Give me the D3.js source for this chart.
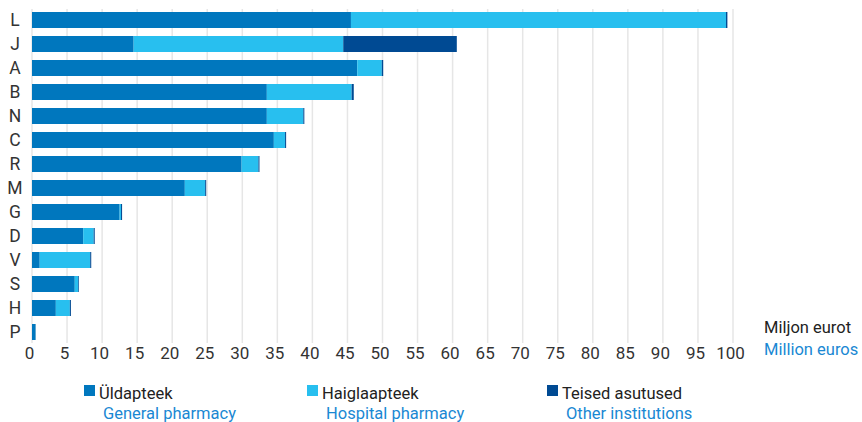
<!DOCTYPE html>
<html>
<head>
<meta charset="utf-8">
<script src="https://cdn.jsdelivr.net/npm/d3@7"></script>
<style>
  body { margin: 0; background: #fff; }
  text { font-family: Roboto, "Noto Sans", sans-serif; }
</style>
</head>
<body>
<svg id="chart" width="862" height="422"></svg>
<script>
// categories, top to bottom
const categories = ['L', 'J', 'A', 'B', 'N', 'C', 'R', 'M', 'G', 'D', 'V', 'S', 'H', 'P'];
// values in million euros
const general  = [45.5, 14.5, 46.4, 33.5, 33.5, 34.5, 29.9, 21.8, 12.5, 7.3, 1.1, 6.1, 3.4, 0.45];
const hospital = [53.5, 29.9,  3.5, 12.1,  5.2,  1.6,  2.4,  2.9,  0.2, 1.5, 7.2, 0.5, 2.0, 0.05];
const other    = [ 0.2, 16.2,  0.2,  0.3,  0.15, 0.15, 0.15, 0.15, 0.15, 0.15, 0.15, 0.1, 0.15, 0.05];
const xTicks = d3.range(0, 101, 5);

const seriesKeys = ['general', 'hospital', 'other'];
const colors = { general: '#0077be', hospital: '#28bfef', other: '#004a93' };
const legendEt = ['Üldapteek', 'Haiglaapteek', 'Teised asutused'];
const legendEn = ['General pharmacy', 'Hospital pharmacy', 'Other institutions'];

const rows = categories.map((c, i) => ({ cat: c, general: general[i], hospital: hospital[i], other: other[i] }));

const svg = d3.select('#chart');
const plotLeft = 32, plotRight = 733, plotTop = 8, plotBottom = 344;

const x = d3.scaleLinear().domain([0, 100]).range([plotLeft, plotRight]);
const y = d3.scaleBand().domain(categories).range([plotTop, plotBottom]).paddingInner(1/3).paddingOuter(1/6);

// gridlines
svg.append('g')
  .selectAll('line')
  .data(xTicks)
  .join('line')
  .attr('x1', d => x(d)).attr('x2', d => x(d))
  .attr('y1', 9).attr('y2', 343)
  .attr('stroke', '#e6e6e6')
  .attr('stroke-width', 1.5);

// stacked bars
const stack = d3.stack().keys(seriesKeys)(rows);
svg.append('g')
  .selectAll('g')
  .data(stack)
  .join('g')
  .attr('fill', d => colors[d.key])
  .selectAll('rect')
  .data(d => d)
  .join('rect')
  .attr('x', d => x(d[0]))
  .attr('width', d => x(d[1]) - x(d[0]))
  .attr('y', d => y(d.data.cat))
  .attr('height', y.bandwidth());

// category labels
svg.append('g')
  .selectAll('text')
  .data(categories)
  .join('text')
  .attr('x', 15)
  .attr('y', d => y(d) + y.bandwidth() / 2)
  .attr('dy', '0.36em')
  .attr('text-anchor', 'middle')
  .attr('font-size', 17.5)
  .attr('fill', '#333')
  .text(d => d);

// x axis labels
const xAxis = svg.append('g')
  .attr('transform', `translate(-3, 346)`)
  .call(d3.axisBottom(x).tickValues(xTicks).tickSize(0).tickPadding(0));
xAxis.select('.domain').remove();
xAxis.selectAll('text')
  .attr('dy', '0.75em')
  .attr('font-size', 17)
  .attr('font-family', 'Roboto, sans-serif')
  .attr('fill', '#333');

// unit label
svg.append('text').attr('x', 764).attr('y', 333)
  .attr('font-size', 16.5).attr('fill', '#222').text('Miljon eurot');
svg.append('text').attr('x', 764).attr('y', 355)
  .attr('font-size', 16.5).attr('fill', '#1a88d3').text('Million euros');

// legend
const legendX = [84, 307, 547];
const legend = svg.append('g')
  .selectAll('g')
  .data(seriesKeys)
  .join('g')
  .attr('transform', (d, i) => `translate(${legendX[i]}, 0)`);
legend.append('rect')
  .attr('x', 0).attr('y', 385).attr('width', 11).attr('height', 11)
  .attr('fill', d => colors[d]);
legend.append('text')
  .attr('x', 15).attr('y', 399)
  .attr('font-size', 16.5).attr('fill', '#222')
  .text((d, i) => legendEt[i]);
legend.append('text')
  .attr('x', 19).attr('y', 419)
  .attr('font-size', 16.5).attr('fill', '#1a88d3')
  .text((d, i) => legendEn[i]);
</script>
</body>
</html>
